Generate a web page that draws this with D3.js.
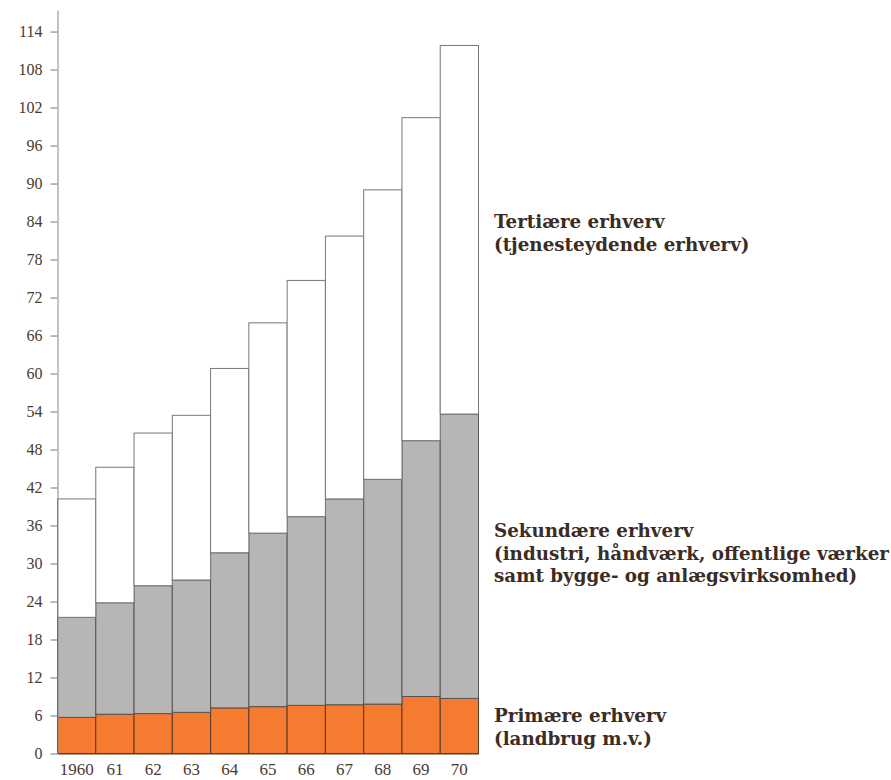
<!DOCTYPE html>
<html>
<head>
<meta charset="utf-8">
<script src="https://cdn.jsdelivr.net/npm/d3@7"></script>
<style>
  body { margin: 0; background: #fff; }
  svg { display: block; }
</style>
</head>
<body>
<svg id="chart"></svg>
<script>
const years = ["1960", "61", "62", "63", "64", "65", "66", "67", "68", "69", "70"];
const primary   = [5.7, 6.2, 6.3, 6.5, 7.2, 7.4, 7.6, 7.7, 7.8, 9.0, 8.7];
const secondary = [15.8, 17.6, 20.2, 20.9, 24.5, 27.4, 29.8, 32.5, 35.5, 40.4, 44.9];
const tertiary  = [18.7, 21.4, 24.1, 26.0, 29.1, 33.2, 37.3, 41.5, 45.7, 51.0, 58.2];
const yTicks = d3.range(0, 115, 6);
const seriesKeys = ["primary", "secondary", "tertiary"];
const seriesLabels = {
    primary: ["Primære erhverv", "(landbrug m.v.)"],
    secondary: ["Sekundære erhverv", "(industri, håndværk, offentlige værker", "samt bygge- og anlægsvirksomhed)"],
    tertiary: ["Tertiære erhverv", "(tjenesteydende erhverv)"]
};

const rows = years.map((y, i) => ({
    year: y, primary: primary[i], secondary: secondary[i], tertiary: tertiary[i]
}));

const W = 891, H = 780;
const svg = d3.select("#chart").attr("width", W).attr("height", H);

const x = d3.scaleBand().domain(years).range([57.5, 478.5]).padding(0);
const y = d3.scaleLinear().domain([0, 117.4]).range([753.5, 10]);

const colors = { primary: "#f47b2f", secondary: "#b7b6b4", tertiary: "#ffffff" };
const strokes = { primary: "#5a3a28", secondary: "#555", tertiary: "#777" };

const stacked = d3.stack().keys(seriesKeys)(rows);

svg.append("g").selectAll("g")
    .data(stacked)
    .join("g")
    .attr("fill", d => colors[d.key])
    .attr("stroke", d => strokes[d.key])
    .attr("stroke-width", 1)
    .selectAll("rect")
    .data(d => d)
    .join("rect")
    .attr("x", d => x(d.data.year))
    .attr("y", d => y(d[1]))
    .attr("width", x.bandwidth())
    .attr("height", d => y(d[0]) - y(d[1]));

const textColor = "#4a3a30";
const serif = "'Liberation Serif', 'Times New Roman', 'DejaVu Serif', serif";

// y axis
const yAxis = svg.append("g")
    .attr("transform", "translate(57.5,0)")
    .call(d3.axisLeft(y).tickValues(yTicks).tickSize(7).tickSizeOuter(0).tickPadding(8));
yAxis.attr("font-family", serif);
yAxis.select(".domain").attr("stroke", "#888");
yAxis.selectAll(".tick line").attr("stroke", "#777");
yAxis.selectAll(".tick text")
    .attr("fill", textColor)
    .style("font-family", serif)
    .style("font-size", "16px");

// x axis
const xAxis = svg.append("g")
    .attr("transform", "translate(0,753.5)")
    .call(d3.axisBottom(x).tickSize(0).tickPadding(9));
xAxis.attr("font-family", serif);
xAxis.select(".domain").attr("stroke", "#5a3a28");
xAxis.selectAll(".tick text")
    .attr("fill", textColor)
    .style("font-family", serif)
    .style("font-size", "17px");

// series labels
const labelPos = { tertiary: 228, secondary: 537, primary: 722 };
seriesKeys.forEach(k => {
    const t = svg.append("text")
        .attr("x", 494)
        .attr("y", labelPos[k])
        .attr("fill", "#3b2c24")
        .style("font-family", "'DejaVu Serif', serif")
        .style("font-weight", "bold")
        .style("font-size", "18.3px");
    seriesLabels[k].forEach((line, i) => {
        t.append("tspan").attr("x", 494).attr("dy", i === 0 ? 0 : 22.5).text(line);
    });
});
</script>
</body>
</html>
